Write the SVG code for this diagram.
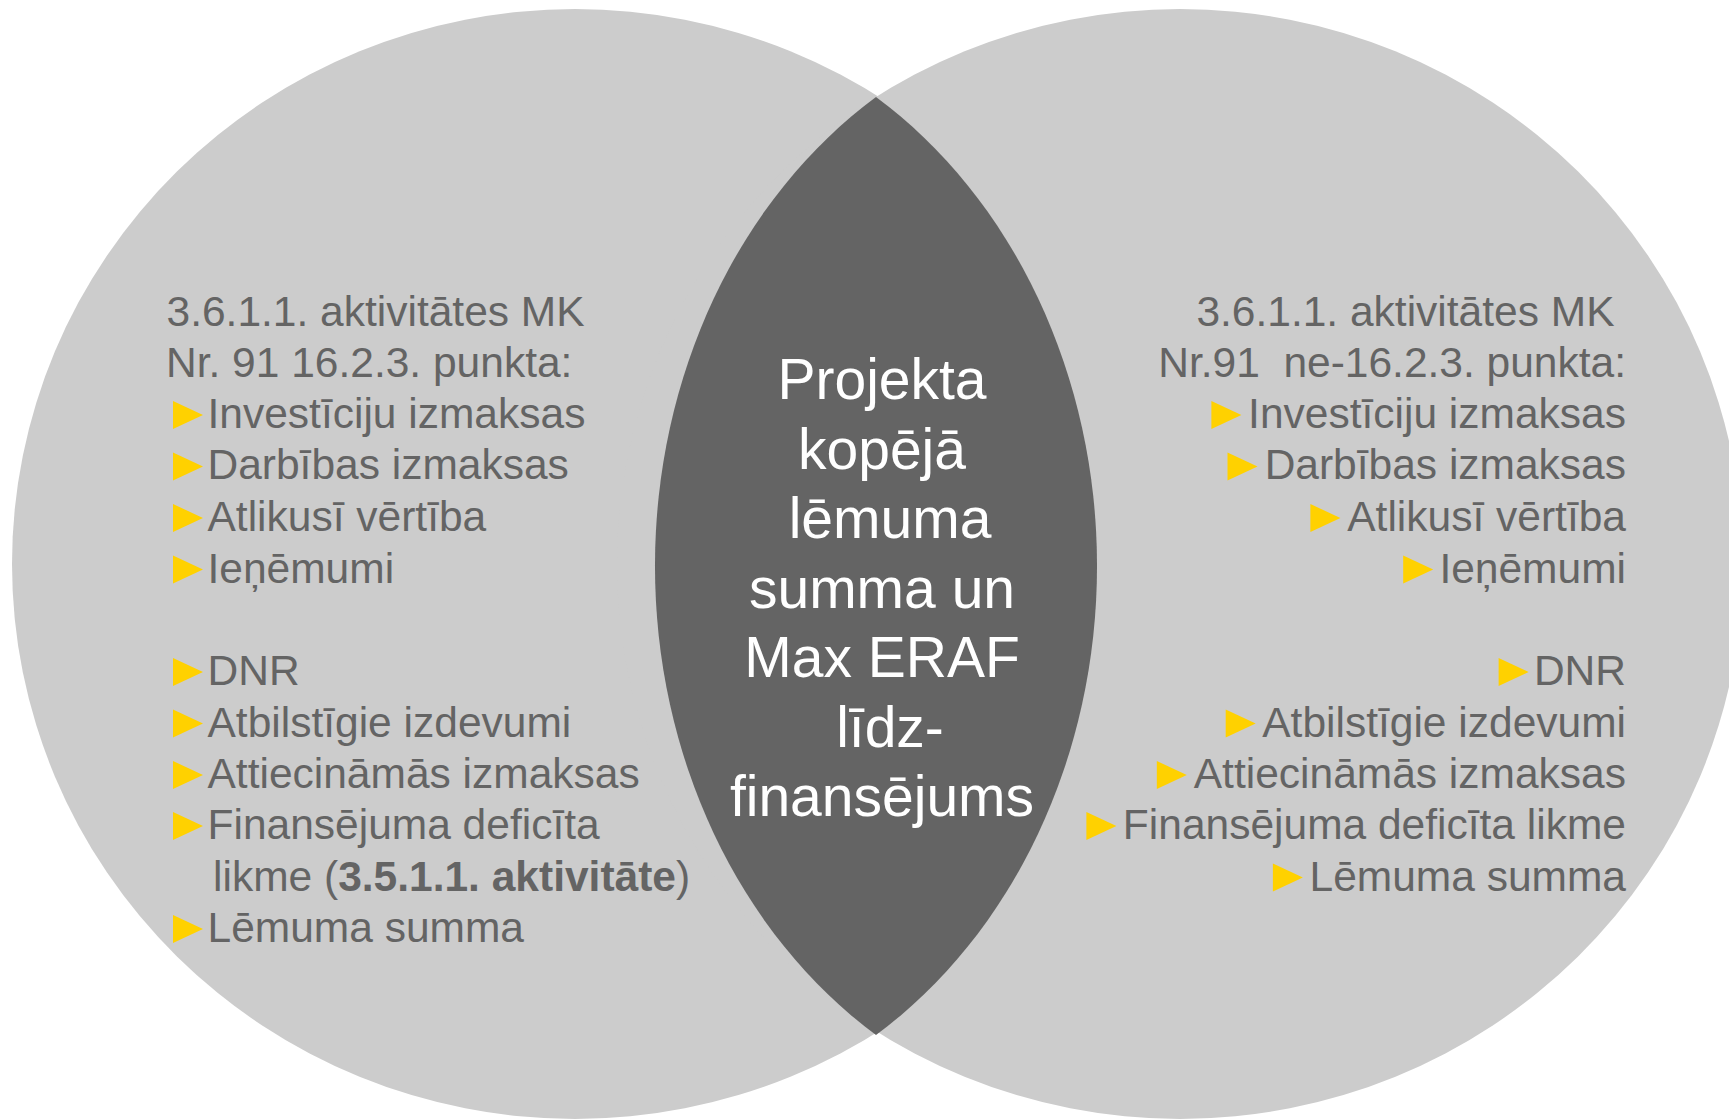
<svg xmlns="http://www.w3.org/2000/svg" xmlns:xlink="http://www.w3.org/1999/xlink" width="1729" height="1119" viewBox="0 0 1729 1119">
<style>
.t{font-family:"Liberation Sans",Arial,"DejaVu Sans",sans-serif;font-size:42.5px;fill:#646464}
.r{text-anchor:end}
.p{white-space:pre}
.b{font-weight:bold}
.c{font-family:"Liberation Sans",Arial,"DejaVu Sans",sans-serif;font-size:57px;fill:#ffffff;text-anchor:middle}
.bul{fill:#FFD100}
</style>
<defs>
<path id="tri" d="M0,0 L30,14 L0,28 Z"/>
</defs>
<rect x="0" y="0" width="1729" height="1119" fill="#ffffff"/>
<g id="left-circle">
<ellipse cx="575" cy="564" rx="563" ry="555" fill="#CCCCCC"/>
</g>
<g id="right-circle">
<ellipse cx="1180" cy="564" rx="563" ry="555" fill="#CCCCCC"/>
</g>
<g id="center-lens">
<path d="M876,97 A475,555 0 0 1 876,1035 A475,555 0 0 1 876,97 Z" fill="#646464"/>
<text class="c" x="882" y="399">Projekta</text>
<text class="c" x="882" y="468.5">kopējā</text>
<text class="c" x="890" y="538">lēmuma</text>
<text class="c" x="882" y="607.5">summa un</text>
<text class="c" x="882" y="677">Max ERAF</text>
<text class="c" x="890" y="746.5">līdz-</text>
<text class="c" x="882" y="816">finansējums</text>
</g>
<g id="left-text">
<text class="t" x="166.5" y="326">3.6.1.1. aktivitātes MK</text>
<text class="t" x="166" y="377.3">Nr. 91 16.2.3. punkta:</text>
<use xlink:href="#tri" class="bul" x="173" y="401"/>
<text class="t" x="207.5" y="428">Investīciju izmaksas</text>
<use xlink:href="#tri" class="bul" x="173" y="452.5"/>
<text class="t" x="207.5" y="479.3">Darbības izmaksas</text>
<use xlink:href="#tri" class="bul" x="173" y="504"/>
<text class="t" x="207.5" y="531">Atlikusī vērtība</text>
<use xlink:href="#tri" class="bul" x="173" y="555.5"/>
<text class="t" x="207.5" y="582.5">Ieņēmumi</text>
<use xlink:href="#tri" class="bul" x="173" y="658"/>
<text class="t" x="207.5" y="685">DNR</text>
<use xlink:href="#tri" class="bul" x="173" y="709.5"/>
<text class="t" x="207.5" y="736.5">Atbilstīgie izdevumi</text>
<use xlink:href="#tri" class="bul" x="173" y="761"/>
<text class="t" x="207.5" y="788">Attiecināmās izmaksas</text>
<use xlink:href="#tri" class="bul" x="173" y="812"/>
<text class="t" x="207.5" y="839">Finansējuma deficīta</text>
<text class="t" x="213" y="890.5">likme (<tspan class="b">3.5.1.1. aktivitāte</tspan>)</text>
<use xlink:href="#tri" class="bul" x="173" y="915"/>
<text class="t" x="207.5" y="942">Lēmuma summa</text>
</g>
<g id="right-text">
<text class="t r" x="1614.5" y="326">3.6.1.1. aktivitātes MK</text>
<text class="t r p" xml:space="preserve" x="1626" y="377.3">Nr.91  ne-16.2.3. punkta:</text>
<use xlink:href="#tri" class="bul" x="1211.4" y="401"/>
<text class="t r" x="1626" y="428">Investīciju izmaksas</text>
<use xlink:href="#tri" class="bul" x="1227.5" y="452.5"/>
<text class="t r" x="1626" y="479.3">Darbības izmaksas</text>
<use xlink:href="#tri" class="bul" x="1310.4" y="504"/>
<text class="t r" x="1626" y="531">Atlikusī vērtība</text>
<use xlink:href="#tri" class="bul" x="1403.2" y="555.5"/>
<text class="t r" x="1626" y="582.5">Ieņēmumi</text>
<use xlink:href="#tri" class="bul" x="1498.6" y="658"/>
<text class="t r" x="1626" y="685">DNR</text>
<use xlink:href="#tri" class="bul" x="1225.7" y="709.5"/>
<text class="t r" x="1626" y="736.5">Atbilstīgie izdevumi</text>
<use xlink:href="#tri" class="bul" x="1156.8" y="761"/>
<text class="t r" x="1626" y="788">Attiecināmās izmaksas</text>
<use xlink:href="#tri" class="bul" x="1086.4" y="812"/>
<text class="t r" x="1626" y="839">Finansējuma deficīta likme</text>
<use xlink:href="#tri" class="bul" x="1272.9" y="863.5"/>
<text class="t r" x="1626" y="890.5">Lēmuma summa</text>
</g>
</svg>
